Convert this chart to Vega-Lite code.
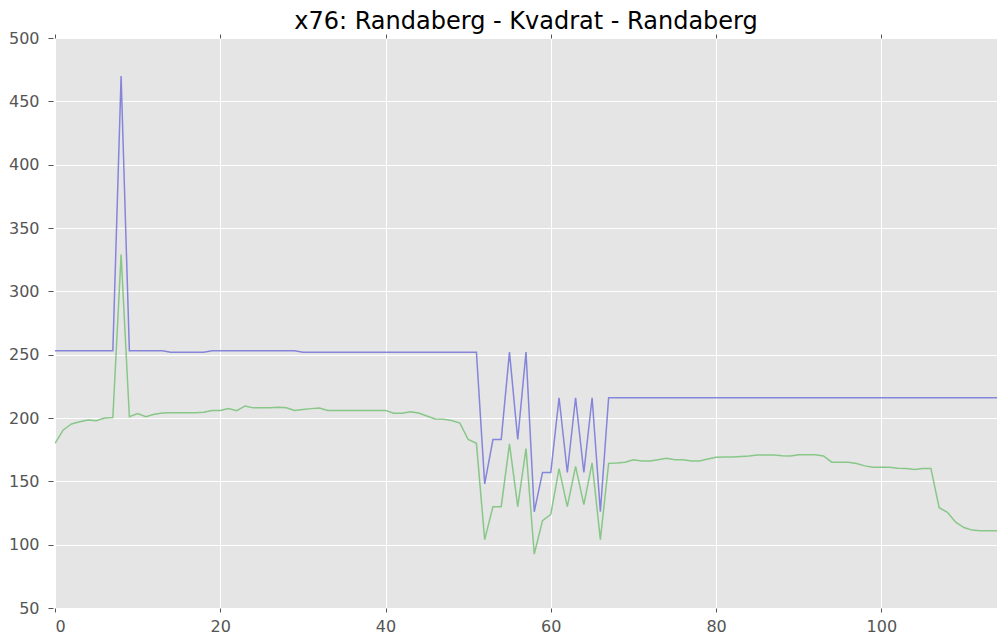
{
  "$schema": "https://vega.github.io/schema/vega-lite/v6.json",
  "autosize": {"type": "none"},
  "padding": {"left": 55, "top": 38, "right": 0, "bottom": 28},
  "width": 942,
  "height": 570,
  "title": {"text": "x76: Randaberg - Kvadrat - Randaberg", "font": "DejaVu Sans", "fontSize": 24, "fontWeight": "normal", "color": "#000000", "anchor": "middle", "baseline": "alphabetic", "offset": 5, "dy": 28},
  "config": {
    "view": {"fill": "#E5E5E5", "stroke": null},
    "axis": {"domain": false, "gridColor": "#FFFFFF", "gridWidth": 1, "gridOpacity": 1, "tickColor": "#555555", "tickSize": 5, "labelColor": "#555555", "labelFont": "DejaVu Sans", "labelFontSize": 16, "title": null}
  },
  "data": {"values": [
    {"x":0,"b":253,"g":180},{"x":1,"b":253,"g":190.6},{"x":2,"b":253,"g":195.3},{"x":3,"b":253,"g":197.1},{"x":4,"b":253,"g":198.4},
    {"x":5,"b":253,"g":197.9},{"x":6,"b":253,"g":200},{"x":7,"b":253,"g":200.3},{"x":8,"b":470,"g":329},{"x":9,"b":253,"g":201},
    {"x":10,"b":253,"g":203.6},{"x":11,"b":253,"g":201},{"x":12,"b":253,"g":202.9},{"x":13,"b":253,"g":203.9},{"x":14,"b":252,"g":204.2},
    {"x":15,"b":252,"g":204.2},{"x":16,"b":252,"g":204.2},{"x":17,"b":252,"g":204.2},{"x":18,"b":252,"g":204.5},{"x":19,"b":253,"g":206},
    {"x":20,"b":253,"g":206},{"x":21,"b":253,"g":207.4},{"x":22,"b":253,"g":205.8},{"x":23,"b":253,"g":209.5},{"x":24,"b":253,"g":208},
    {"x":25,"b":253,"g":208},{"x":26,"b":253,"g":208},{"x":27,"b":253,"g":208.4},{"x":28,"b":253,"g":208},{"x":29,"b":253,"g":206},
    {"x":30,"b":252,"g":206.8},{"x":31,"b":252,"g":207.4},{"x":32,"b":252,"g":207.9},{"x":33,"b":252,"g":206},{"x":34,"b":252,"g":206},
    {"x":35,"b":252,"g":206},{"x":36,"b":252,"g":206},{"x":37,"b":252,"g":206},{"x":38,"b":252,"g":206},{"x":39,"b":252,"g":206},
    {"x":40,"b":252,"g":206},{"x":41,"b":252,"g":203.7},{"x":42,"b":252,"g":203.7},{"x":43,"b":252,"g":205},{"x":44,"b":252,"g":204},
    {"x":45,"b":252,"g":201.6},{"x":46,"b":252,"g":199.2},{"x":47,"b":252,"g":199},{"x":48,"b":252,"g":198},{"x":49,"b":252,"g":196},
    {"x":50,"b":252,"g":183},{"x":51,"b":252,"g":180},{"x":52,"b":148,"g":104},{"x":53,"b":183,"g":130},{"x":54,"b":183,"g":130},
    {"x":55,"b":252,"g":179.5},{"x":56,"b":183,"g":130},{"x":57,"b":252,"g":175.8},{"x":58,"b":126,"g":92.6},{"x":59,"b":157,"g":119},
    {"x":60,"b":157,"g":124},{"x":61,"b":216,"g":160},{"x":62,"b":157,"g":130},{"x":63,"b":216,"g":161.8},{"x":64,"b":157,"g":131.6},
    {"x":65,"b":216,"g":164.5},{"x":66,"b":126,"g":104},{"x":67,"b":216,"g":164.2},{"x":68,"b":216,"g":164.5},{"x":69,"b":216,"g":165},
    {"x":70,"b":216,"g":167.1},{"x":71,"b":216,"g":166},{"x":72,"b":216,"g":166},{"x":73,"b":216,"g":167.1},{"x":74,"b":216,"g":168.2},
    {"x":75,"b":216,"g":167.1},{"x":76,"b":216,"g":167.1},{"x":77,"b":216,"g":166},{"x":78,"b":216,"g":166},{"x":79,"b":216,"g":167.6},
    {"x":80,"b":216,"g":169},{"x":81,"b":216,"g":169.2},{"x":82,"b":216,"g":169.2},{"x":83,"b":216,"g":169.7},{"x":84,"b":216,"g":170},
    {"x":85,"b":216,"g":170.8},{"x":86,"b":216,"g":170.8},{"x":87,"b":216,"g":170.8},{"x":88,"b":216,"g":170.2},{"x":89,"b":216,"g":170},
    {"x":90,"b":216,"g":171},{"x":91,"b":216,"g":171},{"x":92,"b":216,"g":171},{"x":93,"b":216,"g":170},{"x":94,"b":216,"g":165.1},
    {"x":95,"b":216,"g":165.1},{"x":96,"b":216,"g":165.1},{"x":97,"b":216,"g":164.1},{"x":98,"b":216,"g":162.2},{"x":99,"b":216,"g":161.2},
    {"x":100,"b":216,"g":161.2},{"x":101,"b":216,"g":161.2},{"x":102,"b":216,"g":160.4},{"x":103,"b":216,"g":160.2},{"x":104,"b":216,"g":159.4},
    {"x":105,"b":216,"g":160.2},{"x":106,"b":216,"g":160.2},{"x":107,"b":216,"g":129.2},{"x":108,"b":216,"g":125.5},{"x":109,"b":216,"g":117.7},
    {"x":110,"b":216,"g":113.5},{"x":111,"b":216,"g":111.5},{"x":112,"b":216,"g":110.9},{"x":113,"b":216,"g":110.9},{"x":114,"b":216,"g":110.9}
  ]},
  "layer": [
    {
      "mark": {"type": "line", "color": "#8585DA", "strokeWidth": 1.5, "clip": true},
      "encoding": {
        "x": {"field": "x", "type": "quantitative", "scale": {"domain": [0, 114], "nice": false, "zero": false},
              "axis": {"values": [0, 20, 40, 60, 80, 100], "orient": "bottom", "tickSize": 4, "labelPadding": 6, "grid": true}},
        "y": {"field": "b", "type": "quantitative", "scale": {"domain": [50, 500], "nice": false, "zero": false},
              "axis": {"values": [50, 100, 150, 200, 250, 300, 350, 400, 450, 500], "offset": 2, "labelPadding": 9, "grid": true}}
      }
    },
    {
      "mark": {"type": "line", "color": "#88C788", "strokeWidth": 1.5, "clip": true},
      "encoding": {
        "x": {"field": "x", "type": "quantitative", "scale": {"domain": [0, 114], "nice": false, "zero": false},
              "axis": {"values": [0, 20, 40, 60, 80, 100], "orient": "top", "labels": false, "tickSize": 4, "grid": false}},
        "y": {"field": "g", "type": "quantitative", "scale": {"domain": [50, 500], "nice": false, "zero": false},
              "axis": {"values": [50, 100, 150, 200, 250, 300, 350, 400, 450, 500], "offset": 2, "labelPadding": 9, "grid": true}}
      }
    }
  ],
  "resolve": {"axis": {"x": "independent"}}
}
